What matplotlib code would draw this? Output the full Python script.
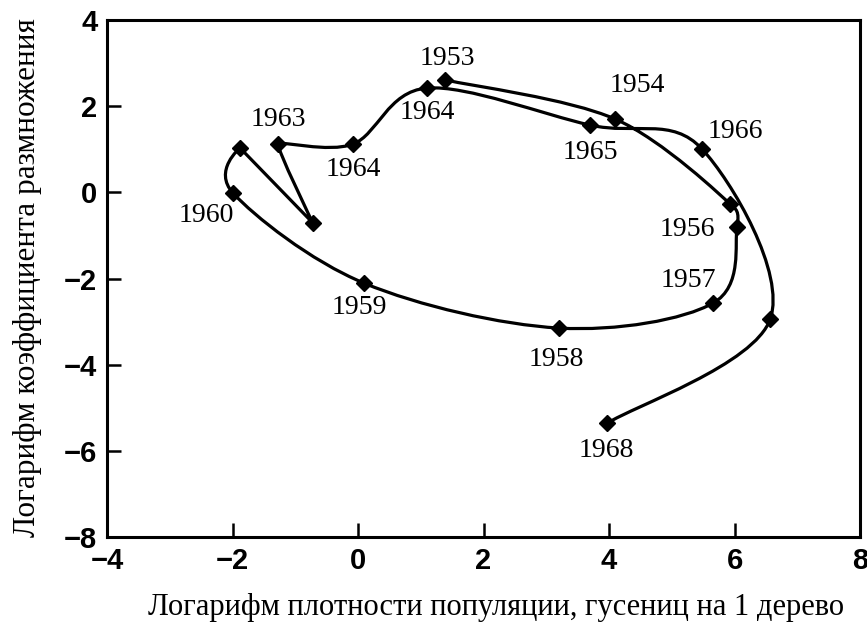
import numpy as np
import matplotlib.pyplot as plt
from matplotlib.path import Path
from matplotlib.patches import PathPatch

# точки в порядке лет (как на рисунке)
density = [1.39, 4.10, 5.93, 6.04, 5.66, 3.20, 0.10, -1.99, -1.88, -0.72,
           -1.27, -0.08, 1.10, 3.70, 5.48, 6.57, 3.97]
growth = [2.61, 1.70, -0.27, -0.81, -2.57, -3.15, -2.11, -0.02, 1.03, -0.71,
          1.12, 1.12, 2.42, 1.56, 1.01, -2.94, -5.36]
years = ['1953', '1954', '', '1956', '1957', '1958', '1959', '1960', '', '',
         '1963', '1964', '1964', '1965', '1966', '', '1968']

# сдвиги подписей, пиксели
offsets = [(2, 21), (22, 34), (0, 0), (-50, -2), (-25, 23), (-3, -31),
           (-5, -24), (-27, -22), (0, 0), (0, 0), (0, 25), (0, -25),
           (0, -24), (0, -27), (33, 17), (0, 0), (-1, -27)]
# 0 - острый угол, 1 - гладко
smooth = [1, 1, 0.3, 1, 1, 1, 1, 1, 0, 0, 0.3, 1, 1, 1, 1, 1, 1]

fig = plt.figure(figsize=(8.67, 6.37), dpi=100)
ax = fig.add_axes([107 / 867, 1 - 537 / 637, 753 / 867, 517 / 637])

pts = np.column_stack([density, growth])
ext = np.vstack([pts[0], pts, pts[-1]])
tang = [(ext[i + 2] - ext[i]) / 6 * smooth[i] for i in range(len(pts))]
verts = [pts[0]]
codes = [Path.MOVETO]
for i in range(len(pts) - 1):
    verts += [pts[i] + tang[i], pts[i + 1] - tang[i + 1], pts[i + 1]]
    codes += [Path.CURVE4] * 3
ax.add_patch(PathPatch(Path(verts, codes), facecolor='none',
                       edgecolor='black', lw=2.3, zorder=2))

ax.plot(density, growth, 'D', color='black', ms=8, zorder=3)

for xi, yi, lab, off in zip(density, growth, years, offsets):
    if lab:
        ax.annotate(lab, (xi, yi), xytext=off, textcoords='offset pixels',
                    ha='center', va='center', fontsize=20,
                    family='Liberation Serif')

ax.set_xlim(-4, 8)
ax.set_ylim(-8, 4)
ax.set_xticks(range(-4, 9, 2))
ax.set_yticks(range(-8, 5, 2))
ax.set_xticklabels(['\u2212' + str(-t) if t < 0 else str(t) for t in range(-4, 9, 2)])
ax.set_yticklabels(['\u2212' + str(-t) if t < 0 else str(t) for t in range(-8, 5, 2)])
ax.tick_params(direction='in', length=10, width=1.8, labelsize=21, pad=7)
for lbl in ax.get_xticklabels() + ax.get_yticklabels():
    lbl.set_family('Liberation Sans')
    lbl.set_weight('bold')
for s in ax.spines.values():
    s.set_linewidth(2.2)

fig.text(496 / 867, 1 - 607 / 637, 'Логарифм плотности популяции, гусениц на 1 дерево',
         ha='center', va='center', fontsize=22, family='Liberation Serif')
fig.text(28 / 867, 1 - 278 / 637, 'Логарифм коэффициента размножения',
         ha='center', va='center', rotation=90, fontsize=22.5,
         family='Liberation Serif')

fig.savefig('out.png', dpi=100)
